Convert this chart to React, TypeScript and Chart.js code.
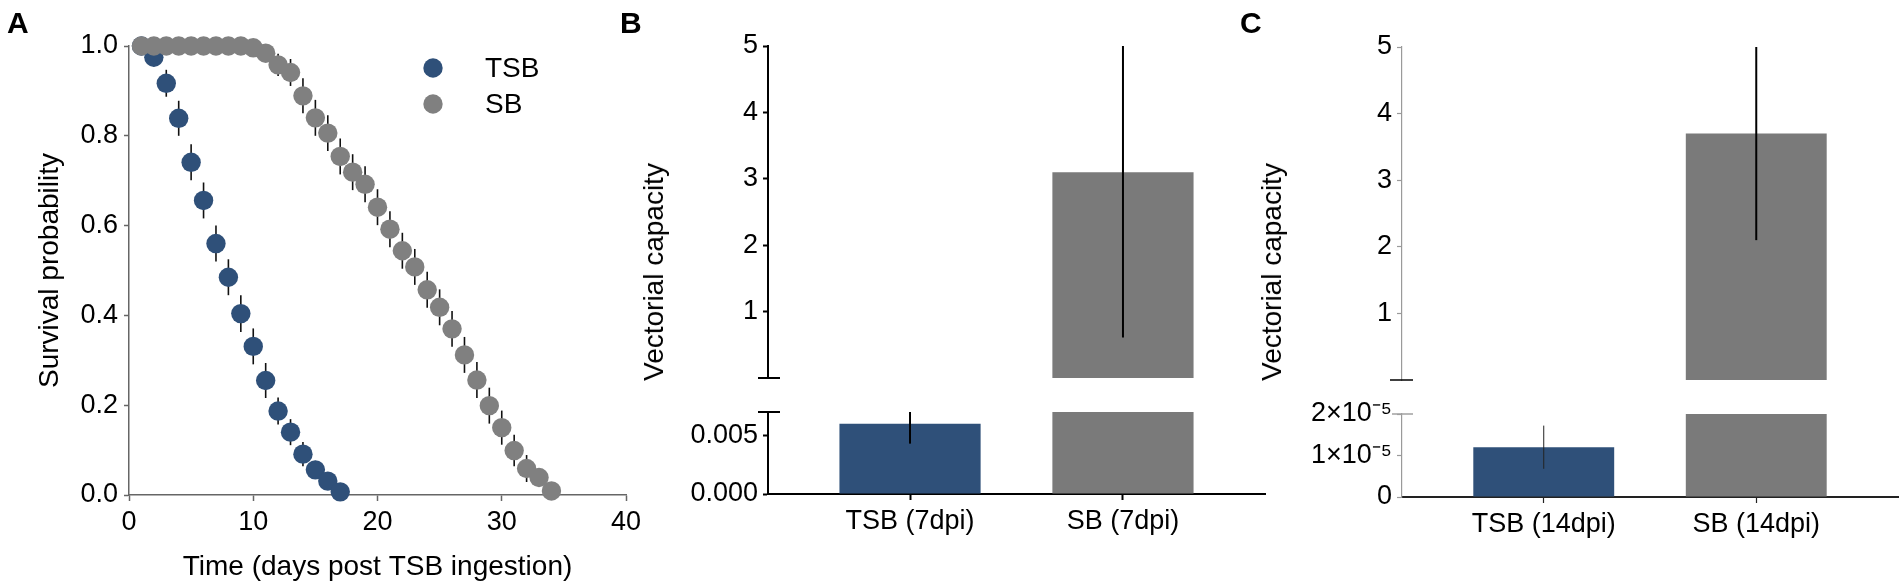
import React, { useEffect, useRef } from 'react';
import { Chart, registerables } from 'chart.js';

Chart.register(...registerables);

const FONT = '"Liberation Sans", Arial, Helvetica, sans-serif';
Chart.defaults.font.family = FONT;

// ---------- Panel A: survival ----------
const tsbDays = [1, 2, 3, 4, 5, 6, 7, 8, 9, 10, 11, 12, 13, 14, 15, 16, 17];
const tsbSurvival = [1.0, 0.975, 0.917, 0.839, 0.741, 0.656, 0.56, 0.485, 0.404, 0.331, 0.255, 0.187, 0.14, 0.091, 0.056, 0.031, 0.007];
const tsbError = [0, 0.02, 0.03, 0.039, 0.04, 0.04, 0.04, 0.04, 0.041, 0.04, 0.039, 0.03, 0.029, 0.027, 0.02, 0.015, 0.005];

const sbDays = [1, 2, 3, 4, 5, 6, 7, 8, 9, 10, 11, 12, 13, 14, 15, 16, 17, 18, 19, 20, 21, 22, 23, 24, 25, 26, 27, 28, 29, 30, 31, 32, 33, 34];
const sbSurvival = [1, 1, 1, 1, 1, 1, 1, 1, 1, 0.996, 0.984, 0.958, 0.941, 0.889, 0.84, 0.806, 0.754, 0.719, 0.692, 0.641, 0.592, 0.544, 0.508, 0.457, 0.418, 0.37, 0.312, 0.256, 0.199, 0.15, 0.099, 0.059, 0.039, 0.009];
const sbError = [0, 0, 0, 0, 0, 0, 0, 0, 0, 0.005, 0.012, 0.025, 0.03, 0.039, 0.04, 0.04, 0.04, 0.04, 0.04, 0.04, 0.04, 0.04, 0.04, 0.04, 0.04, 0.04, 0.04, 0.04, 0.04, 0.038, 0.035, 0.03, 0.02, 0.01];

const survivalXTicks = [0, 10, 20, 30, 40];
const survivalYTicks = [0, 0.2, 0.4, 0.6, 0.8, 1.0];
const seriesLabels = ['TSB', 'SB'];

// ---------- Panel B: vectorial capacity, 7 dpi ----------
const bCategories = ['TSB (7dpi)', 'SB (7dpi)'];
const bValues = [0.006, 3.1];
const bErrors = [0.0017, 2.49];
const bLowerMax = 0.007;
const bUpperMax = 5;
const bLowerTicks = [0, 0.005];
const bLowerTickLabels = ['0.000', '0.005'];
const bUpperTicks = [1, 2, 3, 4, 5];

// ---------- Panel C: vectorial capacity, 14 dpi ----------
const cCategories = ['TSB (14dpi)', 'SB (14dpi)'];
const cValues = [1.2e-5, 3.7];
const cErrors = [0.52e-5, 1.6];
const cLowerMax = 2e-5;
const cUpperMax = 5;
const cLowerTicks = [0, 1e-5, 2e-5];
const cLowerTickLabels = ['0', '1×10⁻⁵', '2×10⁻⁵'];
const cUpperTicks = [1, 2, 3, 4, 5];

// ---------- styles ----------
const BLUE = '#2F5079';
const GREY_POINT = '#808080';
const GREY_BAR = '#7A7A7A';
const BAR_COLORS = [BLUE, GREY_BAR];
const TICK_FONT = { family: FONT, size: 27 };
const TITLE_FONT = { family: FONT, size: 28 };
const H = 587;

// ---------- plugins ----------
function drawErrorBars(chart: any, opts: any) {
  const { ctx, chartArea } = chart;
  const yScale = chart.scales.y;
  ctx.save();
  ctx.beginPath();
  ctx.rect(chartArea.left, chartArea.top - (opts.clip ? 0 : 50), chartArea.right - chartArea.left, chartArea.bottom - chartArea.top + (opts.clip ? 0 : 100));
  ctx.clip();
  chart.data.datasets.forEach((ds: any, di: number) => {
    const errs = ds.errors;
    if (!errs) return;
    const meta = chart.getDatasetMeta(di);
    meta.data.forEach((el: any, i: number) => {
      const raw = ds.data[i];
      const v = raw && typeof raw === 'object' ? raw.y : raw;
      if (v == null || !errs[i]) return;
      const y1 = yScale.getPixelForValue(v - errs[i]);
      const y2 = yScale.getPixelForValue(v + errs[i]);
      ctx.strokeStyle = (opts.colors && opts.colors[i]) || opts.color || '#000';
      ctx.lineWidth = (opts.widths && opts.widths[i]) || opts.width || 1.5;
      ctx.beginPath();
      ctx.moveTo(el.x, y1);
      ctx.lineTo(el.x, y2);
      ctx.stroke();
    });
  });
  ctx.restore();
}

const errorBarPlugin = {
  id: 'errorBars',
  beforeDatasetsDraw(chart: any, _a: any, opts: any) {
    if (opts && opts.behind) drawErrorBars(chart, opts);
  },
  afterDatasetsDraw(chart: any, _a: any, opts: any) {
    if (opts && !opts.behind) drawErrorBars(chart, opts);
  },
};

const breakMarkPlugin = {
  id: 'breakMarks',
  afterDraw(chart: any, _a: any, opts: any) {
    const marks = (opts && opts.marks) || [];
    const { ctx, chartArea } = chart;
    const y = chart.scales.y;
    marks.forEach((m: any) => {
      const py = y.getPixelForValue(m.value);
      ctx.save();
      ctx.strokeStyle = m.color;
      ctx.lineWidth = m.width;
      ctx.beginPath();
      ctx.moveTo(chartArea.left - m.left, py);
      ctx.lineTo(chartArea.left + m.right, py);
      ctx.stroke();
      ctx.restore();
    });
  },
};

const markerLegendPlugin = {
  id: 'markerLegend',
  afterDraw(chart: any, _a: any, opts: any) {
    const { ctx, chartArea } = chart;
    const x0 = chartArea.left + opts.dx;
    let y0 = chartArea.top + opts.dy;
    chart.data.datasets.forEach((ds: any) => {
      ctx.save();
      ctx.fillStyle = ds.backgroundColor;
      ctx.beginPath();
      ctx.arc(x0, y0, opts.radius, 0, Math.PI * 2);
      ctx.fill();
      ctx.fillStyle = '#000';
      ctx.font = `${opts.fontSize}px ${FONT}`;
      ctx.textAlign = 'left';
      ctx.textBaseline = 'middle';
      ctx.fillText(ds.label, x0 + opts.textGap, y0 + 1);
      ctx.restore();
      y0 += opts.spacing;
    });
  },
};

// ---------- chart builders ----------
function survivalConfig(): any {
  const axisColor = '#666';
  return {
    type: 'scatter',
    data: {
      datasets: [
        {
          label: seriesLabels[0],
          data: tsbDays.map((d, i) => ({ x: d, y: tsbSurvival[i] })),
          errors: tsbError,
          backgroundColor: BLUE,
          borderColor: BLUE,
          borderWidth: 0,
          pointRadius: 9.7,
          clip: false,
          order: 1,
        },
        {
          label: seriesLabels[1],
          data: sbDays.map((d, i) => ({ x: d, y: sbSurvival[i] })),
          errors: sbError,
          backgroundColor: GREY_POINT,
          borderColor: GREY_POINT,
          borderWidth: 0,
          pointRadius: 9.7,
          clip: false,
          order: 0,
        },
      ],
    },
    options: {
      animation: false,
      responsive: false,
      events: [],
      layout: { padding: { left: 0, right: 34, top: 46, bottom: 0 } },
      plugins: {
        legend: { display: false },
        tooltip: { enabled: false },
        errorBars: { behind: true, color: '#111', width: 1.6, clip: false },
        markerLegend: { dx: 304, dy: 22, spacing: 36, radius: 9.7, textGap: 52, fontSize: 28 },
      },
      scales: {
        x: {
          type: 'linear',
          min: 0,
          max: 40,
          afterBuildTicks: (s: any) => { s.ticks = survivalXTicks.map((v) => ({ value: v })); },
          afterFit: (s: any) => { s.height = 92; },
          border: { color: axisColor, width: 1.5 },
          grid: { drawOnChartArea: false, tickLength: 6, tickColor: axisColor, tickWidth: 1.5 },
          ticks: { font: TICK_FONT, color: '#000', padding: 5, maxRotation: 0 },
          title: { display: true, text: 'Time (days post TSB ingestion)', font: TITLE_FONT, color: '#000', padding: { top: 0, bottom: 3 } },
        },
        y: {
          min: 0,
          max: 1,
          afterBuildTicks: (s: any) => { s.ticks = survivalYTicks.map((v) => ({ value: v })); },
          afterFit: (s: any) => { s.width = 129; },
          border: { color: axisColor, width: 1.5 },
          grid: { drawOnChartArea: false, tickLength: 5, tickColor: axisColor, tickWidth: 1.5 },
          ticks: { font: TICK_FONT, color: '#000', padding: 6, callback: (v: number) => v.toFixed(1) },
          title: { display: true, text: 'Survival probability', font: TITLE_FONT, color: '#000', padding: { top: 33, bottom: 0 } },
        },
      },
    },
    plugins: [errorBarPlugin, markerLegendPlugin],
  };
}

type BrokenCfg = {
  categories: string[];
  values: number[];
  errors: number[];
  lowerMax: number;
  upperMax: number;
  lowerTicks: number[];
  lowerTickLabels: string[];
  upperTicks: number[];
  yAxisWidth: number;
  rightPad: number;
  upperTop: number;
  upperBottom: number;
  lowerTop: number;
  lowerBottom: number;
  yColor: string;
  yWidth: number;
  yTickWidth: number;
  xColor: string;
  xWidth: number;
  xTickWidth: number;
  errorWidths: number[];
  errorColors: string[];
  upperMark: any;
  lowerMark: any;
};

const X_MIN = -0.667;
const X_MAX = 1.667;

function brokenCharts(upper: HTMLCanvasElement, lower: HTMLCanvasElement, c: BrokenCfg): Chart[] {
  const xBase = (display: boolean, height: number): any => ({
    type: 'linear',
    display,
    offset: false,
    min: X_MIN,
    max: X_MAX,
    afterBuildTicks: (s: any) => { s.ticks = c.categories.map((_, i) => ({ value: i })); },
    afterFit: (s: any) => { s.height = height; },
    border: { color: c.xColor, width: c.xWidth },
    grid: { offset: false, drawOnChartArea: false, tickLength: 6, tickColor: c.xColor, tickWidth: c.xTickWidth },
    ticks: { font: TICK_FONT, color: '#000', padding: 5, maxRotation: 0, autoSkip: false, callback: (v: number) => c.categories[v] },
  });
  const yBase = (max: number, ticks: number[], labels: (v: number) => string): any => ({
    min: 0,
    max,
    afterBuildTicks: (s: any) => { s.ticks = ticks.map((v) => ({ value: v })); },
    afterFit: (s: any) => { s.width = c.yAxisWidth; },
    border: { color: c.yColor, width: c.yWidth },
    grid: { drawOnChartArea: false, tickLength: 5, tickColor: c.yColor, tickWidth: c.yTickWidth },
    ticks: { font: TICK_FONT, color: '#000', padding: 5, callback: labels },
  });
  const dataset = (vals: (number | null)[]) => ({
    data: c.categories.map((_, i) => ({ x: i, y: vals[i] })),
    errors: c.errors,
    backgroundColor: BAR_COLORS,
    borderWidth: 0,
    categoryPercentage: 1,
    barPercentage: 0.663,
  });
  const common = (padding: any, marks: any[]): any => ({
    animation: false,
    responsive: false,
    events: [],
    layout: { padding },
    plugins: {
      legend: { display: false },
      tooltip: { enabled: false },
      errorBars: { behind: false, widths: c.errorWidths, colors: c.errorColors, clip: true },
      breakMarks: { marks },
    },
  });

  const upperChart = new Chart(upper, {
    type: 'bar',
    data: { datasets: [dataset(c.values.map((v) => (v > c.lowerMax ? v : null))) as any] },
    options: {
      ...common({ left: 0, right: c.rightPad, top: c.upperTop, bottom: H - c.upperBottom }, [{ value: 0, ...c.upperMark }]),
      scales: {
        x: xBase(false, 0),
        y: yBase(c.upperMax, c.upperTicks, (v: number) => String(v)),
      },
    },
    plugins: [errorBarPlugin, breakMarkPlugin],
  } as any);

  const lowerChart = new Chart(lower, {
    type: 'bar',
    data: { datasets: [dataset(c.values) as any] },
    options: {
      ...common({ left: 0, right: c.rightPad, top: c.lowerTop, bottom: 0 }, [{ value: c.lowerMax, ...c.lowerMark }]),
      scales: {
        x: xBase(true, H - c.lowerBottom),
        y: yBase(c.lowerMax, c.lowerTicks, (v: number) => c.lowerTickLabels[c.lowerTicks.indexOf(v)]),
      },
    },
    plugins: [errorBarPlugin, breakMarkPlugin],
  } as any);

  return [upperChart, lowerChart];
}

// ---------- layout ----------
const A_LEFT = 0, A_W = 660;
const B_LEFT = 560, B_W = 740;
const C_LEFT = 1300, C_W = 604;

const abs = (left: number, width: number): React.CSSProperties => ({ position: 'absolute', left, top: 0, width, height: H });

function PanelLetter({ text, left }: { text: string; left: number }) {
  return (
    <div style={{ position: 'absolute', left, top: 8, fontFamily: FONT, fontWeight: 'bold', fontSize: 30, lineHeight: '30px', color: '#000' }}>
      {text}
    </div>
  );
}

function VerticalTitle({ text, cx, cy }: { text: string; cx: number; cy: number }) {
  return (
    <div
      style={{
        position: 'absolute',
        left: cx,
        top: cy,
        transform: 'translate(-50%, -50%) rotate(-90deg)',
        fontFamily: FONT,
        fontSize: 28,
        lineHeight: '32px',
        whiteSpace: 'nowrap',
        color: '#000',
      }}
    >
      {text}
    </div>
  );
}

export default function App() {
  const aRef = useRef<HTMLCanvasElement>(null);
  const bUpRef = useRef<HTMLCanvasElement>(null);
  const bLowRef = useRef<HTMLCanvasElement>(null);
  const cUpRef = useRef<HTMLCanvasElement>(null);
  const cLowRef = useRef<HTMLCanvasElement>(null);

  useEffect(() => {
    const charts: Chart[] = [];
    charts.push(new Chart(aRef.current!, survivalConfig()));
    charts.push(
      ...brokenCharts(bUpRef.current!, bLowRef.current!, {
        categories: bCategories,
        values: bValues,
        errors: bErrors,
        lowerMax: bLowerMax,
        upperMax: bUpperMax,
        lowerTicks: bLowerTicks,
        lowerTickLabels: bLowerTickLabels,
        upperTicks: bUpperTicks,
        yAxisWidth: 768 - B_LEFT,
        rightPad: B_LEFT + B_W - 1265,
        upperTop: 46,
        upperBottom: 378,
        lowerTop: 412,
        lowerBottom: 494,
        yColor: '#000',
        yWidth: 2,
        yTickWidth: 2,
        xColor: '#000',
        xWidth: 2,
        xTickWidth: 2,
        errorWidths: [2, 2],
        errorColors: ['#000', '#000'],
        upperMark: { color: '#000', width: 2, left: 10, right: 12 },
        lowerMark: { color: '#000', width: 2, left: 10, right: 12 },
      })
    );
    charts.push(
      ...brokenCharts(cUpRef.current!, cLowRef.current!, {
        categories: cCategories,
        values: cValues,
        errors: cErrors,
        lowerMax: cLowerMax,
        upperMax: cUpperMax,
        lowerTicks: cLowerTicks,
        lowerTickLabels: cLowerTickLabels,
        upperTicks: cUpperTicks,
        yAxisWidth: 1402 - C_LEFT,
        rightPad: C_LEFT + C_W - 1898,
        upperTop: 47,
        upperBottom: 380,
        lowerTop: 414,
        lowerBottom: 497,
        yColor: '#9a9a9a',
        yWidth: 1.2,
        yTickWidth: 1.2,
        xColor: '#222',
        xWidth: 2,
        xTickWidth: 1.2,
        errorWidths: [1, 2],
        errorColors: ['#222', '#000'],
        upperMark: { color: '#000', width: 1.5, left: 12, right: 11 },
        lowerMark: { color: '#a0a0a0', width: 1.5, left: 10, right: 11 },
      })
    );
    return () => charts.forEach((ch) => ch.destroy());
  }, []);

  return (
    <div style={{ position: 'fixed', left: 0, top: 0, width: 1904, height: H, background: '#fff', overflow: 'hidden' }}>
      <canvas ref={aRef} width={A_W} height={H} style={abs(A_LEFT, A_W)} />
      <canvas ref={bUpRef} width={B_W} height={H} style={abs(B_LEFT, B_W)} />
      <canvas ref={bLowRef} width={B_W} height={H} style={abs(B_LEFT, B_W)} />
      <canvas ref={cUpRef} width={C_W} height={H} style={abs(C_LEFT, C_W)} />
      <canvas ref={cLowRef} width={C_W} height={H} style={abs(C_LEFT, C_W)} />
      <PanelLetter text="A" left={7} />
      <PanelLetter text="B" left={620} />
      <PanelLetter text="C" left={1240} />
      <VerticalTitle text="Vectorial capacity" cx={654} cy={272} />
      <VerticalTitle text="Vectorial capacity" cx={1272} cy={272} />
    </div>
  );
}
